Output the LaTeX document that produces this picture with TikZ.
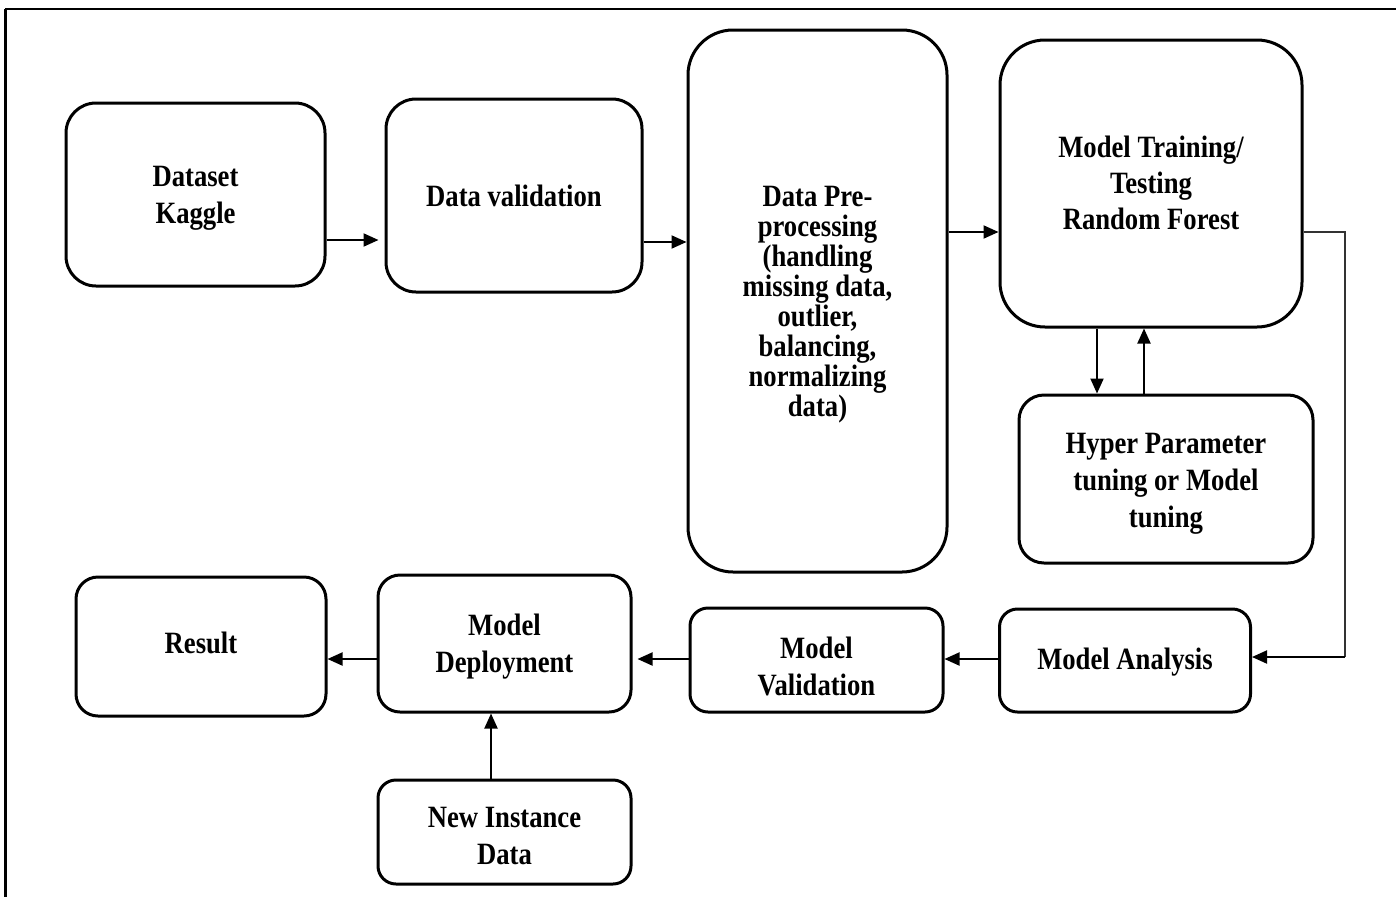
\documentclass[tikz,border=0pt]{standalone}
\usepackage{fontspec}
\setmainfont{Liberation Serif}[FakeStretch=0.86]
\usetikzlibrary{arrows.meta}
\tikzset{
  box/.style={draw=black, line width=3pt, rectangle, inner sep=0pt},
  txt/.style={inner sep=0pt, align=center, font=\fontsize{31}{37}\selectfont\bfseries},
  arr/.style={draw=black, line width=2pt, -{Triangle[length=15pt,width=13pt]}},
  lin/.style={draw=black!80, line width=2pt},
}
\begin{document}
\begin{tikzpicture}[x=1pt,y=-1pt]
\useasboundingbox (0,0) rectangle (1396,897);
% frame
\draw[line width=2.5pt] (5,9) -- (1396,9);
\draw[line width=3pt] (5,9) -- (5,897);
% boxes
\node[box, minimum width=259pt, minimum height=183pt, rounded corners=30pt] (ds) at (195.5,194.5) {};
\node[box, minimum width=256pt, minimum height=193pt, rounded corners=30pt] (dv) at (514,195.5) {};
\node[box, minimum width=259pt, minimum height=542pt, rounded corners=45pt] (pp) at (817.5,301) {};
\node[box, minimum width=302pt, minimum height=287pt, rounded corners=45pt] (mt) at (1151,183.5) {};
\node[box, minimum width=294pt, minimum height=168pt, rounded corners=25pt] (hp) at (1166,479) {};
\node[box, minimum width=251pt, minimum height=103pt, rounded corners=18pt] (ma) at (1125,660.5) {};
\node[box, minimum width=253pt, minimum height=104pt, rounded corners=18pt] (mv) at (816.5,660) {};
\node[box, minimum width=253pt, minimum height=137pt, rounded corners=22pt] (md) at (504.5,643.5) {};
\node[box, minimum width=250pt, minimum height=139pt, rounded corners=22pt] (rs) at (201,646.5) {};
\node[box, minimum width=253pt, minimum height=104pt, rounded corners=18pt] (ni) at (504.5,832) {};
% texts
\node[txt] (ds-t) at ([yshift=-4pt]ds.center) {Dataset\\Kaggle};
\node[txt] (dv-t) at (dv.center) {Data validation};
\node[txt, font=\fontsize{31}{30}\selectfont\bfseries] (pp-t) at ([yshift=-4pt]pp.center) {Data Pre-\\processing\\(handling\\missing data,\\outlier,\\balancing,\\normalizing\\data)};
\node[txt, font=\fontsize{31}{36}\selectfont\bfseries] (mt-t) at ([yshift=1pt]mt.center) {Model Training/\\Testing\\Random Forest};
\node[txt] (hp-t) at ([yshift=-5pt]hp.center) {Hyper Parameter\\tuning or Model\\tuning};
\node[txt] (ma-t) at ([yshift=-2pt]ma.center) {Model Analysis};
\node[txt] (mv-t) at ([yshift=-6pt]mv.center) {Model\\Validation};
\node[txt] (md-t) at ([yshift=-3pt]md.center) {Model\\Deployment};
\node[txt] (rs-t) at ([yshift=4pt]rs.center) {Result};
\node[txt] (ni-t) at ([yshift=-4pt]ni.center) {New Instance\\Data};
% connectors
\draw[arr, shorten >=6pt] (ds.east |- 0,240) -- (dv.west |- 0,240);
\draw[arr] (dv.east |- 0,242) -- (pp.west |- 0,242);
\draw[arr] (pp.east |- 0,232) -- (mt.west |- 0,232);
\coordinate (c1) at (1345,232);
\coordinate (c2) at (1345,657);
\draw[lin] (mt.east |- c1) -- (c1) -- (c2);
\draw[arr] (c2) -- (ma.east |- c2);
\draw[arr] (mt.south -| 1097,0) -- (hp.north -| 1097,0);
\draw[arr] (hp.north -| 1144,0) -- (mt.south -| 1144,0);
\draw[arr] (ma.west |- 0,659) -- (mv.east |- 0,659);
\draw[arr, shorten >=5pt] (mv.west |- 0,659) -- (md.east |- 0,659);
\draw[arr] (md.west |- 0,659) -- (rs.east |- 0,659);
\draw[arr] (ni.north -| 491,0) -- (md.south -| 491,0);
\end{tikzpicture}
\end{document}
